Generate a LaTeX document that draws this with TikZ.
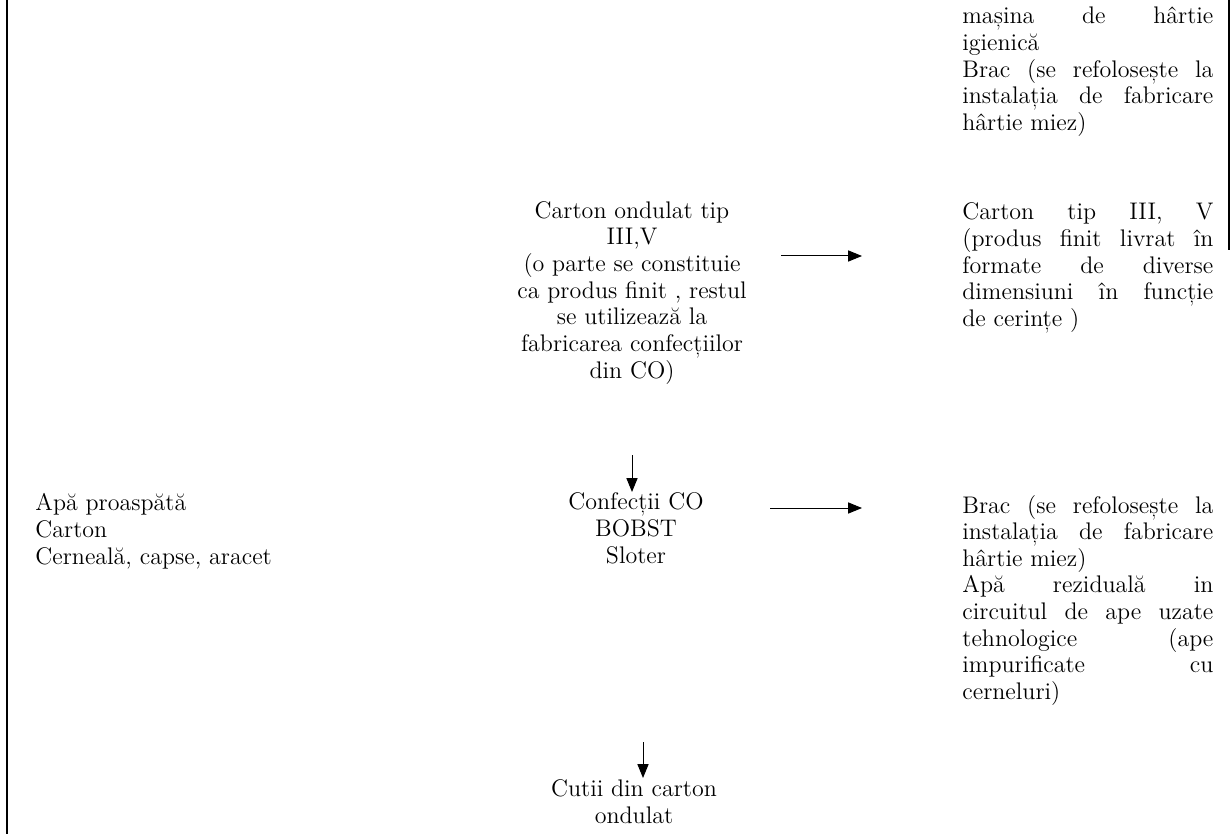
\documentclass[tikz,border=0pt]{standalone}
\usepackage{fontspec}
\usetikzlibrary{arrows.meta}
\setlength{\parindent}{0pt}
\setlength{\parskip}{0pt}
\tikzset{
  txt/.style={font=\fontsize{12}{13.3}\selectfont, inner sep=0pt},
  justblock/.style={txt, text width=125.5pt, align=justify, anchor=base west},
  midblock/.style={txt, align=center, anchor=base},
  leftblock/.style={txt, align=left, anchor=base west},
  arr/.style={-{Triangle[length=7pt,width=5.6pt]}, line width=0.5pt},
  frameline/.style={line width=1pt}
}
\begin{document}
\begin{tikzpicture}[x=0.5pt,y=-0.5pt]
\useasboundingbox (0,0) rectangle (1231,834);
% frame lines
\coordinate (lt) at (7,0);
\coordinate (lb) at (7,834);
\coordinate (rt) at (1229,0);
\coordinate (rb) at (1229,250);
\draw[frameline] (lt) -- (lb);
\draw[frameline] (rt) -- (rb);
% text blocks (centred/left blocks are anchored at their last baseline)
\node[justblock] (tr1) at (962,24) {mașina de hârtie\linebreak igienică\par Brac (se refolosește la\linebreak instalația de fabricare\linebreak hârtie miez)};
\node[midblock] (co) at (632,378) {Carton ondulat tip\\III,V\\(o parte se constituie\\ca produs finit , restul\\se utilizează la\\fabricarea confecțiilor\\din CO)};
\node[justblock] (tr2) at (962,220) {Carton tip III, V\linebreak (produs finit livrat în\linebreak formate de diverse\linebreak dimensiuni în funcție\linebreak de cerințe )};
\node[leftblock] (inp) at (35,564) {Apă proaspătă\\Carton\\Cerneală, capse, aracet};
\node[midblock] (conf) at (636,563) {Confecții CO\\BOBST\\Sloter};
\node[justblock] (tr3) at (962,513) {Brac (se refolosește la\linebreak instalația de fabricare\linebreak hârtie miez)\par Apă reziduală in\linebreak circuitul de ape uzate\linebreak tehnologice (ape\linebreak impurificate cu\linebreak cerneluri)};
\node[midblock] (cutii) at (634,823) {Cutii din carton\\ondulat};
% connectors
\coordinate (a1s) at (781,256);
\coordinate (a1e) at (862,256);
\coordinate (a2s) at (770,508);
\coordinate (a2e) at (862,508);
\coordinate (d1s) at (632,455);
\coordinate (d1e) at (632,492);
\coordinate (d2s) at (643,742);
\coordinate (d2e) at (643,778);
\draw[arr] (a1s) -- (a1e);
\draw[arr] (a2s) -- (a2e);
\draw[arr] (d1s) -- (d1e);
\draw[arr] (d2s) -- (d2e);
\end{tikzpicture}
\end{document}
